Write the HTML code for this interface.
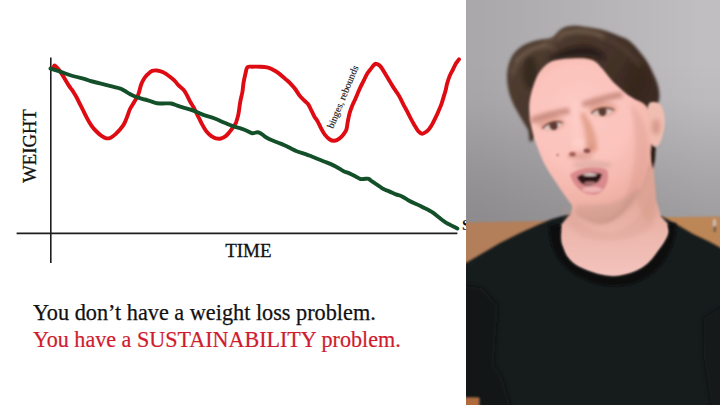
<!DOCTYPE html>
<html><head><meta charset="utf-8">
<style>
html,body{margin:0;padding:0;width:720px;height:405px;overflow:hidden;background:#fff}
#wrap{position:relative;width:720px;height:405px;overflow:hidden;background:#fff}
.t{position:absolute;font-family:"Liberation Serif",serif;white-space:nowrap;line-height:1}
#photo{position:absolute;left:466px;top:0;width:254px;height:405px;overflow:hidden}
</style></head><body><div id="wrap">
<svg width="720" height="405" style="position:absolute;left:0;top:0">
<line x1="50.8" y1="57.5" x2="50.8" y2="263" stroke="#1e1e1e" stroke-width="1.6"/>
<line x1="16.6" y1="233.4" x2="457.4" y2="233.4" stroke="#1e1e1e" stroke-width="1.6"/>
<path d="M53.6,66.8 C53.8,66.6 54.1,65.3 54.8,65.6 C55.5,65.9 56.8,67.3 57.9,68.6 C59.0,69.9 60.4,71.7 61.6,73.6 C62.8,75.5 64.1,77.8 65.3,79.8 C66.5,81.8 67.8,84.1 69.0,85.9 C70.2,87.8 71.5,89.1 72.7,90.9 C73.9,92.8 75.2,94.8 76.4,97.0 C77.6,99.2 79.0,102.2 80.1,104.4 C81.2,106.6 81.8,107.8 82.9,109.9 C84.0,112.1 85.1,114.6 86.6,117.3 C88.0,120.0 89.9,123.5 91.6,125.9 C93.2,128.3 94.8,129.8 96.5,131.5 C98.2,133.2 99.8,134.7 101.5,135.8 C103.2,136.9 104.9,138.0 106.4,138.3 C107.9,138.6 109.3,138.3 110.7,137.7 C112.1,137.1 113.5,135.9 115.0,134.6 C116.5,133.2 118.5,131.4 120.0,129.6 C121.5,127.8 123.1,125.8 124.3,123.5 C125.5,121.2 126.5,118.4 127.4,116.0 C128.3,113.6 128.9,111.3 130.0,109.0 C131.1,106.7 132.8,104.4 134.2,102.0 C135.6,99.6 137.2,97.3 138.3,94.5 C139.4,91.7 140.1,87.6 141.0,85.0 C141.9,82.4 142.9,80.6 144.0,78.8 C145.1,77.0 146.5,75.5 147.8,74.2 C149.2,72.9 150.6,71.5 152.1,70.9 C153.6,70.3 155.2,70.3 157.0,70.5 C158.8,70.7 161.0,71.3 163.2,72.3 C165.3,73.3 167.9,75.2 169.9,76.7 C171.9,78.2 173.5,79.5 174.9,81.0 C176.3,82.5 177.2,84.0 178.6,85.4 C180.0,86.9 182.2,88.2 183.5,89.7 C184.8,91.2 185.6,92.8 186.6,94.6 C187.6,96.4 188.6,98.7 189.7,100.8 C190.8,102.9 192.3,105.0 193.4,107.0 C194.5,109.0 195.6,111.4 196.5,113.1 C197.4,114.8 197.6,115.4 198.6,117.3 C199.6,119.2 201.1,122.4 202.3,124.7 C203.5,127.0 204.6,129.1 206.0,130.9 C207.4,132.8 209.3,134.6 211.0,135.8 C212.7,137.0 214.2,137.9 215.9,138.3 C217.6,138.8 219.3,138.8 220.9,138.5 C222.5,138.2 223.9,137.4 225.3,136.4 C226.7,135.4 228.0,133.8 229.3,132.3 C230.6,130.8 232.1,128.8 233.2,127.2 C234.3,125.5 235.2,124.5 236.1,122.4 C236.9,120.3 237.7,117.4 238.3,114.7 C238.9,112.0 239.2,108.6 239.6,106.0 C240.0,103.4 240.3,101.3 240.8,99.0 C241.3,96.7 241.9,94.8 242.4,92.0 C242.9,89.2 243.1,85.3 243.6,82.2 C244.1,79.1 244.9,76.0 245.5,73.5 C246.1,71.0 246.2,68.4 247.3,67.3 C248.4,66.2 250.2,66.8 252.3,66.7 C254.4,66.6 257.2,66.6 259.7,66.7 C262.2,66.8 265.1,66.9 267.1,67.3 C269.2,67.7 270.1,68.3 272.0,69.2 C273.9,70.1 276.1,71.3 278.2,72.9 C280.3,74.5 282.9,76.9 284.9,78.6 C286.8,80.3 288.2,81.3 289.9,83.0 C291.5,84.7 293.1,86.3 294.8,88.5 C296.5,90.7 298.2,93.8 299.8,95.9 C301.4,98.0 303.3,99.5 304.7,100.9 C306.1,102.4 307.3,103.0 308.4,104.6 C309.5,106.2 310.5,108.7 311.5,110.7 C312.5,112.8 313.6,115.2 314.6,116.9 C315.6,118.6 316.3,119.1 317.4,121.0 C318.5,122.9 319.9,126.1 321.1,128.4 C322.3,130.7 323.4,132.8 324.8,134.6 C326.2,136.4 328.2,138.5 329.8,139.5 C331.4,140.5 333.1,140.9 334.7,140.7 C336.3,140.5 338.2,139.3 339.6,138.3 C341.0,137.3 342.2,136.1 343.3,134.6 C344.4,133.1 345.7,131.7 346.4,129.6 C347.1,127.5 347.2,124.9 347.7,122.2 C348.2,119.5 348.8,116.3 349.5,113.6 C350.2,110.9 351.1,108.5 352.0,106.2 C352.9,103.9 353.8,102.5 355.1,99.5 C356.4,96.5 358.5,91.4 359.9,88.3 C361.3,85.2 362.4,83.4 363.6,80.9 C364.8,78.4 366.1,75.5 367.3,73.5 C368.5,71.5 369.8,70.1 371.0,68.6 C372.2,67.1 373.8,65.1 374.7,64.3 C375.6,63.5 375.7,63.7 376.5,63.9 C377.3,64.1 378.7,64.7 379.6,65.5 C380.5,66.3 381.1,67.0 382.1,68.6 C383.1,70.1 384.6,72.8 385.8,74.8 C387.0,76.8 388.3,78.9 389.5,80.9 C390.7,83.0 392.0,85.2 393.2,87.1 C394.4,89.0 395.8,90.8 396.9,92.5 C398.0,94.2 398.8,95.4 399.9,97.4 C401.0,99.5 402.4,102.4 403.6,104.8 C404.8,107.2 406.1,109.2 407.3,111.6 C408.5,114.0 409.8,116.6 411.0,119.0 C412.2,121.4 413.6,123.7 414.8,125.8 C416.1,127.9 417.3,130.1 418.5,131.4 C419.7,132.7 421.0,133.7 422.2,133.8 C423.4,133.9 424.7,132.9 425.9,132.0 C427.1,131.1 428.5,129.8 429.6,128.3 C430.7,126.9 431.6,125.4 432.7,123.3 C433.8,121.2 435.3,118.2 436.4,115.9 C437.5,113.7 438.2,111.8 439.1,109.8 C440.0,107.8 440.8,105.9 441.6,103.6 C442.4,101.3 443.2,98.3 443.9,96.2 C444.5,94.1 444.9,92.9 445.5,90.7 C446.1,88.5 446.5,85.8 447.2,83.3 C447.9,80.8 448.8,78.2 449.7,75.9 C450.6,73.7 451.8,71.8 452.8,69.8 C453.8,67.8 454.9,65.3 455.9,63.6 C456.9,61.9 458.5,60.0 459.0,59.3" fill="none" stroke="#df0b12" stroke-width="3.9" stroke-linejoin="round" stroke-linecap="round"/>
<path d="M50.5,68.6 C52.1,69.1 56.6,70.5 60.3,71.7 C64.0,72.9 68.6,74.8 72.7,76.0 C76.8,77.2 82.1,78.3 85.0,79.1 C87.9,79.9 87.5,80.2 90.0,80.9 C92.5,81.6 96.6,82.5 99.9,83.3 C103.2,84.1 106.5,85.0 109.8,85.8 C113.1,86.6 117.1,87.5 119.6,88.3 C122.1,89.1 122.9,89.9 124.6,90.8 C126.2,91.7 127.8,92.8 129.5,93.7 C131.2,94.6 132.8,95.5 134.5,96.2 C136.2,97.0 138.3,97.7 140.0,98.2 C141.7,98.8 142.9,99.0 144.7,99.5 C146.5,100.0 148.8,100.8 150.9,101.4 C153.0,102.0 154.9,102.9 157.0,103.2 C159.1,103.5 160.8,103.5 163.2,103.5 C165.6,103.5 168.8,103.1 171.2,103.5 C173.5,103.9 175.2,105.0 177.3,105.7 C179.4,106.4 181.4,107.0 183.5,107.6 C185.6,108.2 187.4,108.6 189.7,109.4 C192.0,110.2 194.9,111.3 197.4,112.3 C199.9,113.3 201.9,114.4 204.8,115.4 C207.7,116.4 211.4,117.3 214.7,118.5 C218.0,119.7 221.7,121.6 224.6,122.8 C227.5,124.0 229.2,124.9 232.0,125.9 C234.8,126.9 238.6,127.8 241.2,128.6 C243.8,129.4 245.5,130.2 247.3,131.0 C249.2,131.8 250.7,133.1 252.3,133.3 C254.0,133.5 255.8,132.3 257.2,132.3 C258.6,132.3 259.4,132.7 260.9,133.5 C262.3,134.3 264.0,136.1 265.9,137.2 C267.8,138.3 269.9,139.4 272.0,140.3 C274.1,141.2 276.1,142.0 278.2,142.8 C280.3,143.6 282.3,144.3 284.4,145.2 C286.5,146.1 288.6,147.3 290.6,148.3 C292.7,149.3 294.1,150.2 296.7,151.2 C299.3,152.2 303.6,153.4 306.2,154.3 C308.8,155.2 310.2,155.9 312.3,156.7 C314.4,157.5 316.4,158.4 318.5,159.2 C320.6,160.0 322.6,160.9 324.7,161.7 C326.8,162.5 328.8,163.2 330.9,164.1 C332.9,165.0 334.9,166.1 337.0,167.2 C339.1,168.3 341.1,169.9 343.2,170.9 C345.3,171.9 347.3,172.5 349.4,173.4 C351.5,174.3 353.8,175.6 355.6,176.5 C357.5,177.4 358.9,178.6 360.5,179.0 C362.1,179.4 364.0,178.8 365.4,178.8 C366.8,178.8 367.5,178.4 368.7,178.9 C369.9,179.4 371.0,180.7 372.4,181.7 C373.8,182.7 375.4,183.6 377.3,184.8 C379.2,186.0 381.4,188.0 383.5,189.1 C385.6,190.2 387.6,190.7 389.7,191.6 C391.8,192.5 393.8,193.6 395.9,194.4 C397.9,195.2 399.9,195.5 402.0,196.5 C404.1,197.5 406.1,199.1 408.2,200.2 C410.3,201.3 412.4,202.4 414.4,203.3 C416.4,204.2 418.3,205.0 420.0,205.8 C421.7,206.6 422.9,207.3 424.4,208.0 C425.9,208.7 427.4,209.4 428.9,210.2 C430.4,211.0 431.8,211.8 433.3,212.9 C434.8,214.0 436.3,215.3 437.8,216.5 C439.3,217.7 440.7,218.9 442.2,220.0 C443.7,221.1 445.2,222.2 446.7,223.1 C448.2,224.0 449.8,224.7 451.1,225.4 C452.4,226.1 453.6,226.6 454.7,227.1 C455.8,227.6 456.9,228.3 457.4,228.5" fill="none" stroke="#135029" stroke-width="3.9" stroke-linejoin="round" stroke-linecap="round"/>
</svg>
<div class="t" style="left:30px;top:145.5px;font-size:18.7px;transform:translate(-50%,-50%) rotate(-90deg);color:#111;-webkit-text-stroke:0.3px #111">WEIGHT</div>
<div class="t" style="left:225.2px;top:241px;font-size:19px;color:#111;-webkit-text-stroke:0.3px #111">TIME</div>
<div class="t" style="left:343px;top:96.5px;font-size:9.9px;transform:translate(-50%,-50%) rotate(-67.5deg);color:#1a1a1a;-webkit-text-stroke:0.15px #1a1a1a">binges, rebounds</div>
<div class="t" style="left:462px;top:216.5px;font-size:15.5px;font-weight:bold;color:#111">S</div>
<div class="t" style="left:33px;top:301.5px;font-size:22.25px;color:#111;-webkit-text-stroke:0.25px #111">You don’t have a weight loss problem.</div>
<div class="t" style="left:33px;top:329.4px;font-size:22.1px;color:#cf1b2e;-webkit-text-stroke:0.2px #cf1b2e">You have a SUSTAINABILITY problem.</div>
<div id="photo">
<svg width="254" height="405" viewBox="466 0 254 405" style="display:block">
<defs>
<linearGradient id="wall" gradientUnits="userSpaceOnUse" x1="480" y1="0" x2="705" y2="0">
<stop offset="0" stop-color="#aaa8ab"/><stop offset="1" stop-color="#c0bec1"/>
</linearGradient>
<linearGradient id="wallV" gradientUnits="userSpaceOnUse" x1="0" y1="60" x2="0" y2="215">
<stop offset="0" stop-color="#000" stop-opacity="0"/><stop offset="0.26" stop-color="#000" stop-opacity="0.02"/><stop offset="0.77" stop-color="#000" stop-opacity="0.13"/><stop offset="1" stop-color="#000" stop-opacity="0.17"/>
</linearGradient>
<radialGradient id="skinF" gradientUnits="userSpaceOnUse" cx="582" cy="125" r="100" fx="578" fy="105">
<stop offset="0" stop-color="#fdcac4"/><stop offset="0.5" stop-color="#fbc3bc"/><stop offset="0.8" stop-color="#f1b3a7"/><stop offset="1" stop-color="#e0a494"/>
</radialGradient>
<linearGradient id="skinN" gradientUnits="userSpaceOnUse" x1="0" y1="200" x2="0" y2="275">
<stop offset="0" stop-color="#e2a99c"/><stop offset="0.5" stop-color="#edb8ae"/><stop offset="1" stop-color="#f4c3bd"/>
</linearGradient>
<linearGradient id="hairG" gradientUnits="userSpaceOnUse" x1="540" y1="30" x2="650" y2="100">
<stop offset="0" stop-color="#4f3c30"/><stop offset="0.6" stop-color="#433128"/><stop offset="1" stop-color="#3a2920"/>
</linearGradient>
<filter id="b1" x="-10%" y="-10%" width="120%" height="120%"><feGaussianBlur stdDeviation="1"/></filter>
<filter id="b2" x="-20%" y="-20%" width="140%" height="140%"><feGaussianBlur stdDeviation="2"/></filter>
<filter id="b3" x="-30%" y="-30%" width="160%" height="160%"><feGaussianBlur stdDeviation="3"/></filter>
</defs>
<rect x="466" y="0" width="254" height="405" fill="url(#wall)"/>
<rect x="466" y="0" width="254" height="405" fill="url(#wallV)"/>
<g filter="url(#b1)">
<polygon points="460,222.5 600,220 600,290 460,290" fill="#b37e5a"/>
<polygon points="600,218 730,216.5 730,290 600,290" fill="#bc8656"/>
<rect x="713" y="219" width="3" height="11" rx="1.5" fill="#cfc8c2" opacity="0.8"/>
<rect x="713.5" y="226" width="2.5" height="6" rx="1.2" fill="#4a3a30" opacity="0.8"/>
</g>
<g filter="url(#b1)">
<path d="M460,266 L466,263 L500,243 L520,233 L540,224 L552,219 L566,215 L600,215 L661,216 L676,224 L693,234 L709,241.5 L720,247.5 L730,253 L730,415 L480,415 L480,398 L460,398 Z" fill="#191b1b"/>
</g>
<g filter="url(#b2)">
<path d="M460,285 L482,288 L498,305 L494,365 L502,377 L512,410 L460,410 Z" fill="#0d0e0f" opacity="0.6"/>
<path d="M703,318 L725,305 L725,410 L712,410 L704,360 Z" fill="#0d0e0f" opacity="0.5"/>
</g>
<g filter="url(#b1)">
<polygon points="460,397.5 479,397.5 479,415 460,415" fill="#b06a3c"/>
</g>
<g filter="url(#b1)">
<path d="M573,204 L571,213 L566,219 L561.0,225.0 C560.9,227.5 560.1,235.8 560.5,240.0 C560.9,244.2 562.4,247.2 563.5,250.0 C564.6,252.8 565.1,254.5 567.0,257.0 C568.9,259.5 571.2,262.5 575.0,265.0 C578.8,267.5 585.0,270.2 590.0,272.0 C595.0,273.8 600.3,275.3 605.0,276.0 C609.7,276.7 613.0,277.1 618.0,276.4 C623.0,275.7 630.0,274.1 635.0,272.0 C640.0,269.9 644.2,267.3 648.0,264.0 C651.8,260.7 655.2,255.7 658.0,252.0 C660.8,248.3 663.2,245.2 665.0,242.0 C666.8,238.8 668.5,236.0 669.0,233.0 C669.5,230.0 668.2,225.5 668.0,224.0 L661,216 L656,200 L652,150 L620,160 Z" fill="url(#skinN)"/>
</g>
<g filter="url(#b1)">
<path d="M549.0,224.0 C549.2,226.7 549.5,235.2 550.5,240.0 C551.5,244.8 552.9,249.0 555.0,253.0 C557.1,257.0 560.0,260.7 563.0,264.0 C566.0,267.3 567.8,269.8 573.0,273.0 C578.2,276.2 587.2,280.8 594.0,283.0 C600.8,285.2 607.3,286.0 614.0,286.0 C620.7,286.0 627.3,285.3 634.0,283.0 C640.7,280.7 648.3,276.7 654.0,272.0 C659.7,267.3 664.5,261.2 668.0,255.0 C671.5,248.8 673.7,240.3 675.0,235.0 C676.3,229.7 675.8,225.0 676.0,223.0 L668.0,224.0 C668.2,225.5 669.5,230.0 669.0,233.0 C668.5,236.0 666.8,238.8 665.0,242.0 C663.2,245.2 660.8,248.3 658.0,252.0 C655.2,255.7 651.8,260.7 648.0,264.0 C644.2,267.3 640.0,269.9 635.0,272.0 C630.0,274.1 623.0,275.7 618.0,276.4 C613.0,277.1 609.7,276.7 605.0,276.0 C600.3,275.3 595.0,273.8 590.0,272.0 C585.0,270.2 578.8,267.5 575.0,265.0 C571.2,262.5 568.9,259.5 567.0,257.0 C565.1,254.5 564.6,252.8 563.5,250.0 C562.4,247.2 560.9,244.2 560.5,240.0 C560.1,235.8 560.9,227.5 561.0,225.0 Z" fill="#0c0d0d"/>
</g>
<g filter="url(#b2)">
<path d="M566,205 C575,222 595,234 612,232 C628,230 642,215 652,195 L654,225 C640,240 610,245 585,238 C572,232 565,220 562,210Z" fill="#c98f80" opacity="0.2"/>
<path d="M636,180 L652,160 L658,215 L648,225 C640,215 636,200 636,180Z" fill="#c88a74" opacity="0.2"/>
</g>
<filter id="b15" x="-10%" y="-10%" width="120%" height="120%"><feGaussianBlur stdDeviation="1.6"/></filter>
<g filter="url(#b15)">
<path d="M533.0,140.0 C527.6,146.5 530.1,133.4 527.7,129.1 C525.3,124.8 521.5,119.2 518.8,114.2 C516.1,109.2 513.2,104.4 511.3,99.4 C509.4,94.5 508.1,89.5 507.5,84.5 C506.9,79.5 506.6,74.6 507.5,69.7 C508.4,64.8 509.9,59.1 512.8,54.9 C515.7,50.7 520.2,47.0 524.7,44.5 C529.2,42.0 535.2,40.8 539.7,39.7 C544.2,38.6 548.0,39.6 551.6,37.8 C555.2,36.0 558.1,30.9 561.4,28.9 C564.7,26.9 567.3,26.2 571.3,25.9 C575.2,25.6 579.8,26.2 585.1,26.9 C590.4,27.6 597.3,28.4 602.9,29.9 C608.5,31.4 614.1,33.8 618.7,35.8 C623.3,37.8 626.4,38.3 630.5,41.7 C634.6,45.1 639.8,51.5 643.2,56.0 C646.6,60.5 648.7,64.0 651.1,68.9 C653.5,73.8 656.5,80.2 657.9,85.2 C659.3,90.2 659.6,95.3 659.3,98.8 C659.0,102.3 657.5,103.8 656.0,106.0 C654.5,108.2 652.7,111.3 650.0,112.0 C647.3,112.7 648.3,113.7 640.0,110.0 C631.7,106.3 613.3,93.3 600.0,90.0 C586.7,86.7 571.2,81.7 560.0,90.0 C548.8,98.3 538.4,133.5 533.0,140.0Z" fill="url(#hairG)"/>
</g>
<g filter="url(#b2)">
<path d="M548,60 C558,50 572,46 586,46 C596,47 603,52 606,60 C596,56 585,55 575,56 C565,57 556,59 548,60Z" fill="#1e140e" opacity="0.7"/>
<path d="M512,75 C516,58 528,48 546,44" stroke="#7d6757" stroke-width="3" fill="none" opacity="0.6"/>
<path d="M540,46 C548,40 556,38 562,40" stroke="#7d6757" stroke-width="2.5" fill="none" opacity="0.6"/>
<ellipse cx="530" cy="72" rx="7" ry="16" fill="#241a13" opacity="0.6"/>
<ellipse cx="636" cy="80" rx="12" ry="20" fill="#33251c" opacity="0.5"/>
<path d="M515,62 C525,50 540,45 555,47" stroke="#7a6352" stroke-width="3" fill="none" opacity="0.7"/>
<path d="M558,36 C572,29 590,30 604,37" stroke="#76604f" stroke-width="5" fill="none" opacity="0.8"/>
<path d="M605,38 C618,43 630,52 640,66" stroke="#62503f" stroke-width="3" fill="none" opacity="0.5"/>
</g>
<g filter="url(#b1)">
<path d="M649,144 L656,144 L655,160 L653,169 L651,160 Z" fill="#2c1f18"/>
<path d="M648.0,106.0 C648.7,103.0 650.1,102.4 652.0,102.0 C653.9,101.6 657.7,102.2 659.6,103.8 C661.5,105.4 662.7,108.4 663.6,111.7 C664.5,115.0 665.0,119.6 664.8,123.6 C664.6,127.6 663.5,132.2 662.6,135.5 C661.7,138.8 660.9,141.6 659.6,143.4 C658.3,145.2 656.4,147.1 654.7,146.5 C653.0,145.9 650.6,144.4 649.5,140.0 C648.4,135.6 648.0,125.7 647.8,120.0 C647.5,114.3 647.3,109.0 648.0,106.0Z" fill="#f0bdb1"/>
<path d="M529.9,99.0 C530.9,93.0 533.8,84.2 535.8,79.2 C537.8,74.2 539.4,72.1 541.7,69.3 C544.0,66.5 546.6,64.0 549.6,62.4 C552.6,60.8 555.9,60.1 559.5,59.5 C563.1,58.9 567.0,58.7 571.3,58.5 C575.6,58.3 581.1,58.0 585.1,58.5 C589.1,59.0 592.0,59.6 595.0,61.4 C598.0,63.2 600.3,66.3 602.9,69.3 C605.5,72.3 608.2,76.2 610.8,79.2 C613.4,82.2 616.1,84.6 618.7,87.1 C621.3,89.6 624.0,92.0 626.6,94.0 C629.2,96.0 631.6,97.3 634.5,99.0 C637.4,100.7 641.7,101.8 644.0,104.0 C646.3,106.2 647.3,106.2 648.5,112.0 C649.7,117.8 650.9,130.8 651.0,139.0 C651.1,147.2 650.3,153.8 649.0,161.0 C647.7,168.2 644.9,176.7 643.0,182.0 C641.1,187.3 639.7,189.4 637.5,193.0 C635.3,196.6 632.7,200.2 630.0,203.6 C627.3,207.0 624.6,210.6 621.5,213.5 C618.4,216.4 615.5,219.3 611.6,220.9 C607.7,222.5 603.1,224.2 598.0,223.3 C592.9,222.4 585.8,219.1 581.0,215.5 C576.2,211.9 573.5,207.2 569.5,202.0 C565.5,196.8 561.1,190.2 557.0,184.0 C552.9,177.8 548.3,171.3 545.0,165.0 C541.7,158.7 539.1,151.5 537.0,146.0 C534.9,140.5 533.8,137.2 532.5,132.0 C531.2,126.8 529.9,120.5 529.5,115.0 C529.1,109.5 528.9,105.0 529.9,99.0Z" fill="url(#skinF)"/>
</g>
<g filter="url(#b2)">
<path d="M630,104 C645,114 651,140 648,165 C645,185 632,205 616,217 C634,188 640,145 630,104Z" fill="#d09080" opacity="0.3"/>
<path d="M576,206 C588,204 600,206 612,203 C624,199 632,192 638,190 C634,202 624,213 612,219 C600,224 586,220 576,210Z" fill="#b89088" opacity="0.35"/>
<path d="M576,212 C582,218 590,222 599,223 C608,223 618,217 626,209 C632,202 636,195 639,188" stroke="#b88a7e" stroke-width="4" fill="none" opacity="0.35"/>
<ellipse cx="592" cy="165" rx="20" ry="4.5" fill="#bc8f80" opacity="0.35"/>
<ellipse cx="656" cy="127" rx="4.5" ry="8" fill="#d08e80" opacity="0.7"/>
<ellipse cx="551" cy="123" rx="14" ry="7" fill="#cc856c" opacity="0.45"/>
<ellipse cx="603" cy="109" rx="14" ry="7" fill="#cc856c" opacity="0.5"/>
<path d="M584,112 C592,124 598,136 597,149 C594,153 589,153 586,150 C587,138 584,125 580,114Z" fill="#dc967f" opacity="0.75"/>
<ellipse cx="580" cy="156" rx="13" ry="3.5" fill="#cf8e7e" opacity="0.55"/>
<ellipse cx="592" cy="148" rx="5" ry="5" fill="#dc947f" opacity="0.6"/>
<path d="M533,120 C542,116 555,113 567,111" stroke="#b8776a" stroke-width="6" fill="none" stroke-linecap="round" opacity="0.7"/>
<path d="M585,104 C596,100 608,97 620,95" stroke="#b8776a" stroke-width="6" fill="none" stroke-linecap="round" opacity="0.7"/>
</g>
<g filter="url(#b1)">
<path d="M543,128.5 C547,123 556,121 562,123.5 C559,130 550,132 543,128.5Z" fill="#e2c8c2"/>
<ellipse cx="553.6" cy="125.8" rx="4.4" ry="4.3" fill="#5e3a32"/>
<path d="M542.5,128.5 C547,122.5 556,120.5 562.5,123" stroke="#6a3c32" stroke-width="1.8" fill="none"/>
<path d="M592,113.5 C596,108.5 606,107 613,110 C609,116 599,117 592,113.5Z" fill="#e2c8c2"/>
<ellipse cx="602.5" cy="111.8" rx="4.4" ry="4.2" fill="#5e3a32"/>
<path d="M591.5,113.5 C596,108 606,106.5 614,110" stroke="#6a3c32" stroke-width="1.8" fill="none"/>
<ellipse cx="572.5" cy="154.3" rx="3.2" ry="2.2" fill="#a25c55"/>
<ellipse cx="587" cy="150.8" rx="3.4" ry="2.3" fill="#8a4c46"/>
<path d="M570,175 C577,168 595,165 607,170 C610,178 607,189 598,194 C587,197 575,190 570,175Z" fill="#d98a8c"/>
<path d="M577,177 C582,172.5 595,171.5 602,174 C601,181 595,185.5 588,186 C582,185 578,181 577,177Z" fill="#2f1417"/>
<ellipse cx="590" cy="183.5" rx="6" ry="2" fill="#c98a8a" opacity="0.8"/>
<ellipse cx="590" cy="174.6" rx="7" ry="1.5" fill="#d8c4be"/>
<ellipse cx="592" cy="189.5" rx="10" ry="3" fill="#f2b8b6" opacity="0.9"/>
<circle cx="557.6" cy="155" r="1" fill="#8a5048"/>
</g>
<g filter="url(#b2)">
<ellipse cx="578" cy="143" rx="6" ry="5" fill="#ffd6d0" opacity="0.6"/>
<path d="M574,100 C575,115 576,128 577,138" stroke="#ffd4cc" stroke-width="4" fill="none" opacity="0.5"/>
</g>
</svg>
</div>
</div></body></html>
